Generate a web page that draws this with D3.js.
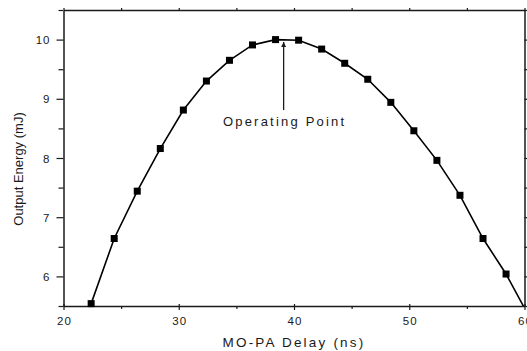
<!DOCTYPE html>
<html>
<head>
<meta charset="utf-8">
<script src="https://cdn.jsdelivr.net/npm/d3@7/dist/d3.min.js"></script>
<style>
  html, body { margin: 0; padding: 0; background: #fff; }
  svg { display: block; font-family: "Liberation Sans", Arial, sans-serif; }
</style>
</head>
<body>
<svg id="chart" width="527" height="351"></svg>
<script>
// MO-PA delay (ns) and measured output energy (mJ)
const delayNs = [22.4, 24.4, 26.4, 28.4, 30.4, 32.4, 34.4, 36.4, 38.4, 40.4,
                 42.4, 44.4, 46.4, 48.4, 50.4, 52.4, 54.4, 56.4, 58.4, 60.4];
const energyMJ = [5.54, 6.64, 7.44, 8.16, 8.81, 9.30, 9.65, 9.91, 10.00, 9.99,
                  9.84, 9.60, 9.33, 8.94, 8.46, 7.96, 7.37, 6.64, 6.04, 5.32];

// Axis ticks
const xMajorTicks = [20, 30, 40, 50, 60];
const xMinorTicks = [25, 35, 45, 55];
const yMajorTicks = [6, 7, 8, 9, 10];
const yMinorTicks = [5.5, 6.5, 7.5, 8.5, 9.5, 10.5];

// Annotation arrow (data units): tail -> head
const arrowFrom = [39.1, 8.81];
const arrowTo = [39.1, 9.96];
const annotationText = "Operating Point";

const svg = d3.select("#chart");
const plotLeft = 63.5, plotRight = 524.5, plotTop = 10, plotBottom = 306;

const x = d3.scaleLinear().domain([20, 60]).range([plotLeft, plotRight]);
const y = d3.scaleLinear().domain([5.5, 10.5]).range([plotBottom, plotTop]);

const ink = "#1a1a1a";

const defs = svg.append("defs");
defs.append("clipPath").attr("id", "plotClip")
  .append("rect").attr("x", plotLeft).attr("y", plotTop)
  .attr("width", plotRight - plotLeft).attr("height", plotBottom - plotTop);

defs.append("marker")
  .attr("id", "arrowHead")
  .attr("viewBox", "0 0 10 10")
  .attr("refX", 10).attr("refY", 5)
  .attr("markerUnits", "userSpaceOnUse")
  .attr("markerWidth", 9).attr("markerHeight", 5)
  .attr("orient", "auto")
  .append("path").attr("d", "M0,0 L10,5 L0,10 Z").attr("fill", ink);

// Axes
function styleAxis(g) {
  g.selectAll("path.domain").attr("stroke", ink).attr("stroke-width", 1.5);
  g.selectAll(".tick line").attr("stroke", ink).attr("stroke-width", 1.2);
  g.selectAll("text").attr("fill", ink)
    .style("font-family", "'Liberation Sans', Arial, sans-serif")
    .style("font-size", "11.5px").style("letter-spacing", "1px");
}

// bottom
const gxMinor = svg.append("g").attr("transform", `translate(0,${plotBottom})`)
  .call(d3.axisBottom(x).tickValues(xMinorTicks).tickSize(3).tickSizeOuter(0).tickFormat(""));
gxMinor.select("path.domain").remove();
styleAxis(gxMinor);
const gx = svg.append("g").attr("transform", `translate(0,${plotBottom})`)
  .call(d3.axisBottom(x).tickValues(xMajorTicks).tickSize(4).tickSizeOuter(0).tickFormat(d3.format("d")));
gx.selectAll(".tick line").attr("y1", -2);
gx.selectAll(".tick text").attr("y", 19).attr("dy", 0).attr("dx", "0.5px");
styleAxis(gx);

// top (mirror, no labels)
const gTop = svg.append("g").attr("transform", `translate(0,${plotTop})`)
  .call(d3.axisTop(x).tickValues(xMajorTicks.concat(xMinorTicks)).tickSize(2).tickSizeOuter(0).tickFormat(""));
styleAxis(gTop);

// left
const gyMinor = svg.append("g").attr("transform", `translate(${plotLeft},0)`)
  .call(d3.axisLeft(y).tickValues(yMinorTicks).tickSize(5).tickSizeOuter(0).tickFormat(""));
gyMinor.select("path.domain").remove();
styleAxis(gyMinor);
const gy = svg.append("g").attr("transform", `translate(${plotLeft},0)`)
  .call(d3.axisLeft(y).tickValues(yMajorTicks).tickSize(7).tickSizeOuter(0).tickFormat(d3.format("d")));
gy.selectAll(".tick text").attr("x", -13).attr("dy", "0.36em");
styleAxis(gy);

// right (mirror, no labels)
const gRight = svg.append("g").attr("transform", `translate(${plotRight},0)`)
  .call(d3.axisRight(y).tickValues(yMajorTicks.concat(yMinorTicks)).tickSize(3).tickSizeOuter(0).tickFormat(""));
styleAxis(gRight);

// Axis titles
svg.append("text")
  .attr("x", 294).attr("y", 346.5)
  .attr("text-anchor", "middle")
  .attr("fill", ink)
  .style("font-size", "13.5px").style("letter-spacing", "2.2px")
  .text("MO-PA Delay (ns)");

svg.append("text")
  .attr("transform", "translate(22.5,169) rotate(-90)")
  .attr("text-anchor", "middle")
  .attr("fill", ink)
  .style("font-size", "13px")
  .text("Output Energy (mJ)");

// Data line and markers
const pts = delayNs.map((d, i) => ({ x: d, y: energyMJ[i] }));

svg.append("path")
  .datum(pts)
  .attr("clip-path", "url(#plotClip)")
  .attr("fill", "none")
  .attr("stroke", "#000")
  .attr("stroke-width", 1.6)
  .attr("d", d3.line().x(d => x(d.x)).y(d => y(d.y)));

const ms = 7;
svg.append("g").selectAll("rect")
  .data(pts.filter(d => d.x <= 60 && d.y >= 5.5))
  .join("rect")
  .attr("x", d => x(d.x) - ms / 2)
  .attr("y", d => y(d.y) - ms / 2)
  .attr("width", ms).attr("height", ms)
  .attr("fill", "#000");

// Operating point annotation
svg.append("line")
  .attr("x1", x(arrowFrom[0])).attr("y1", y(arrowFrom[1]))
  .attr("x2", x(arrowTo[0])).attr("y2", y(arrowTo[1]))
  .attr("stroke", ink).attr("stroke-width", 1.3)
  .attr("marker-end", "url(#arrowHead)");

svg.append("text")
  .attr("x", x(arrowFrom[0]) + 1).attr("y", y(arrowFrom[1]) + 16)
  .attr("text-anchor", "middle")
  .attr("fill", ink)
  .style("font-size", "13px").style("letter-spacing", "2.2px")
  .text(annotationText);
</script>
</body>
</html>
